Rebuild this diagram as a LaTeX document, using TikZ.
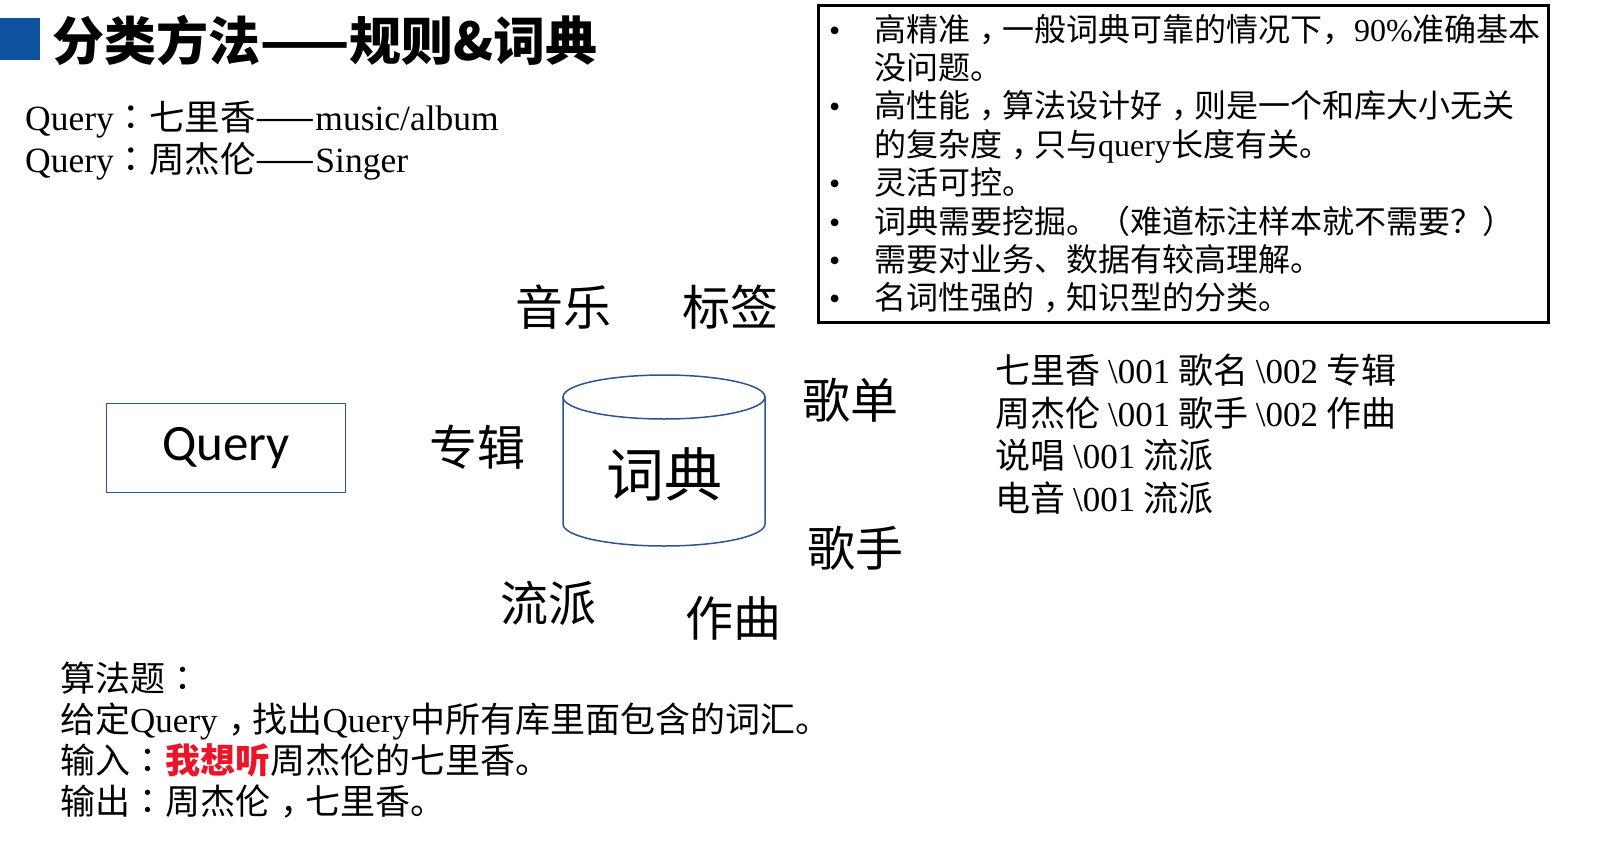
\documentclass[tikz,border=0pt]{standalone}
\usepackage{fontspec}
\setmainfont{Noto Sans CJK SC}
\newfontfamily\lat{Liberation Serif}
\newfontfamily\carlito{Carlito}
\newfontfamily\punctfont{Noto Sans CJK TC}
\newcommand\zcolon{{\punctfont ：}}
\newcommand\zcomma{\hspace{0.3em}\makebox[0.7em][l]{，}}
\usepackage{array}
\definecolor{titleblue}{RGB}{15,82,160}
\definecolor{dictblue}{RGB}{47,82,143}
\definecolor{hotred}{RGB}{235,20,40}
\tikzset{
  word/.style={inner sep=0pt,font=\fontsize{48}{48}\selectfont},
  plain/.style={inner sep=0pt,anchor=west,align=left},
  cyl/.style={draw=dictblue,line width=1.5pt},
  qbox/.style={draw=dictblue,line width=1.5pt,minimum width=239,minimum height=89,font=\carlito\fontsize{51}{51}\selectfont},
}

\begin{document}
\begin{tikzpicture}[x=1pt,y=-1pt]
  \useasboundingbox (0,0) rectangle (1611,857);
  % title
  \node (mark) at (0,18) [anchor=north west,fill=titleblue,minimum width=40,minimum height=42,inner sep=0pt] {};
  \node (title) at (52,40) [plain,font=\fontsize{52}{52}\selectfont\bfseries] {分类方法——规则\&词典};
  \node (examples) at (25,141) [plain,font=\fontsize{35.5}{42}\selectfont] {{\lat Query}\zcolon 七里香——{\lat music/album}\\{\lat Query}\zcolon 周杰伦——{\lat Singer}};

  % query and dictionary
  \node (query) at (226,448) [qbox] {Query};
  \draw [cyl] (563,397) -- (563,524) arc[start angle=180,end angle=0,x radius=101,y radius=22] -- (765,397);
  \draw [cyl] (664,397) ellipse[x radius=101,y radius=22];
  \node (dict) at (664,474) [inner sep=0pt,font=\fontsize{58}{58}\selectfont] {词典};
  \node (music) at (563,307) [word] {音乐};
  \node (tag) at (730,307) [word] {标签};
  \node (album) at (477,447) [word] {专辑};
  \node (playlist) at (850,400) [word] {歌单};
  \node (singer) at (855,548) [word] {歌手};
  \node (genre) at (548,603) [word] {流派};
  \node (composer) at (733,618) [word] {作曲};

  % pros and cons
  \node (prosbox) at (817,4) [draw,line width=2.5pt,anchor=north west,minimum width=730,minimum height=317,inner sep=0pt] {};
  \node (pros) at (829,168) [plain,font=\fontsize{32}{37.8}\selectfont] {\begin{tabular}{@{}p{45pt}@{}l@{}}
    {\lat\textbullet} & 高精准\zcomma 一般词典可靠的情况下，{\lat 90\%}准确基本\\
      & 没问题。\\
    {\lat\textbullet} & 高性能\zcomma 算法设计好\zcomma 则是一个和库大小无关\\
      & 的复杂度\zcomma 只与{\lat query}长度有关。\\
    {\lat\textbullet} & 灵活可控。\\
    {\lat\textbullet} & 词典需要挖掘。（难道标注样本就不需要？）\\
    {\lat\textbullet} & 需要对业务、数据有较高理解。\\
    {\lat\textbullet} & 名词性强的\zcomma 知识型的分类。
  \end{tabular}};

  % dictionary entries
  \node (entries) at (995,434) [plain,font=\fontsize{35}{42.5}\selectfont] {七里香 {\lat\textbackslash 001} 歌名 {\lat\textbackslash 002} 专辑\\周杰伦 {\lat\textbackslash 001} 歌手 {\lat\textbackslash 002} 作曲\\说唱 {\lat\textbackslash 001} 流派\\电音 {\lat\textbackslash 001} 流派};

  % task
  \node (task) at (60,740) [plain,font=\fontsize{35}{41}\selectfont] {算法题\zcolon\\给定{\lat Query}\zcomma 找出{\lat Query}中所有库里面包含的词汇。\\输入\zcolon{\color{hotred}\bfseries 我想听}周杰伦的七里香。\\输出\zcolon 周杰伦\zcomma 七里香。};
\end{tikzpicture}
\end{document}
